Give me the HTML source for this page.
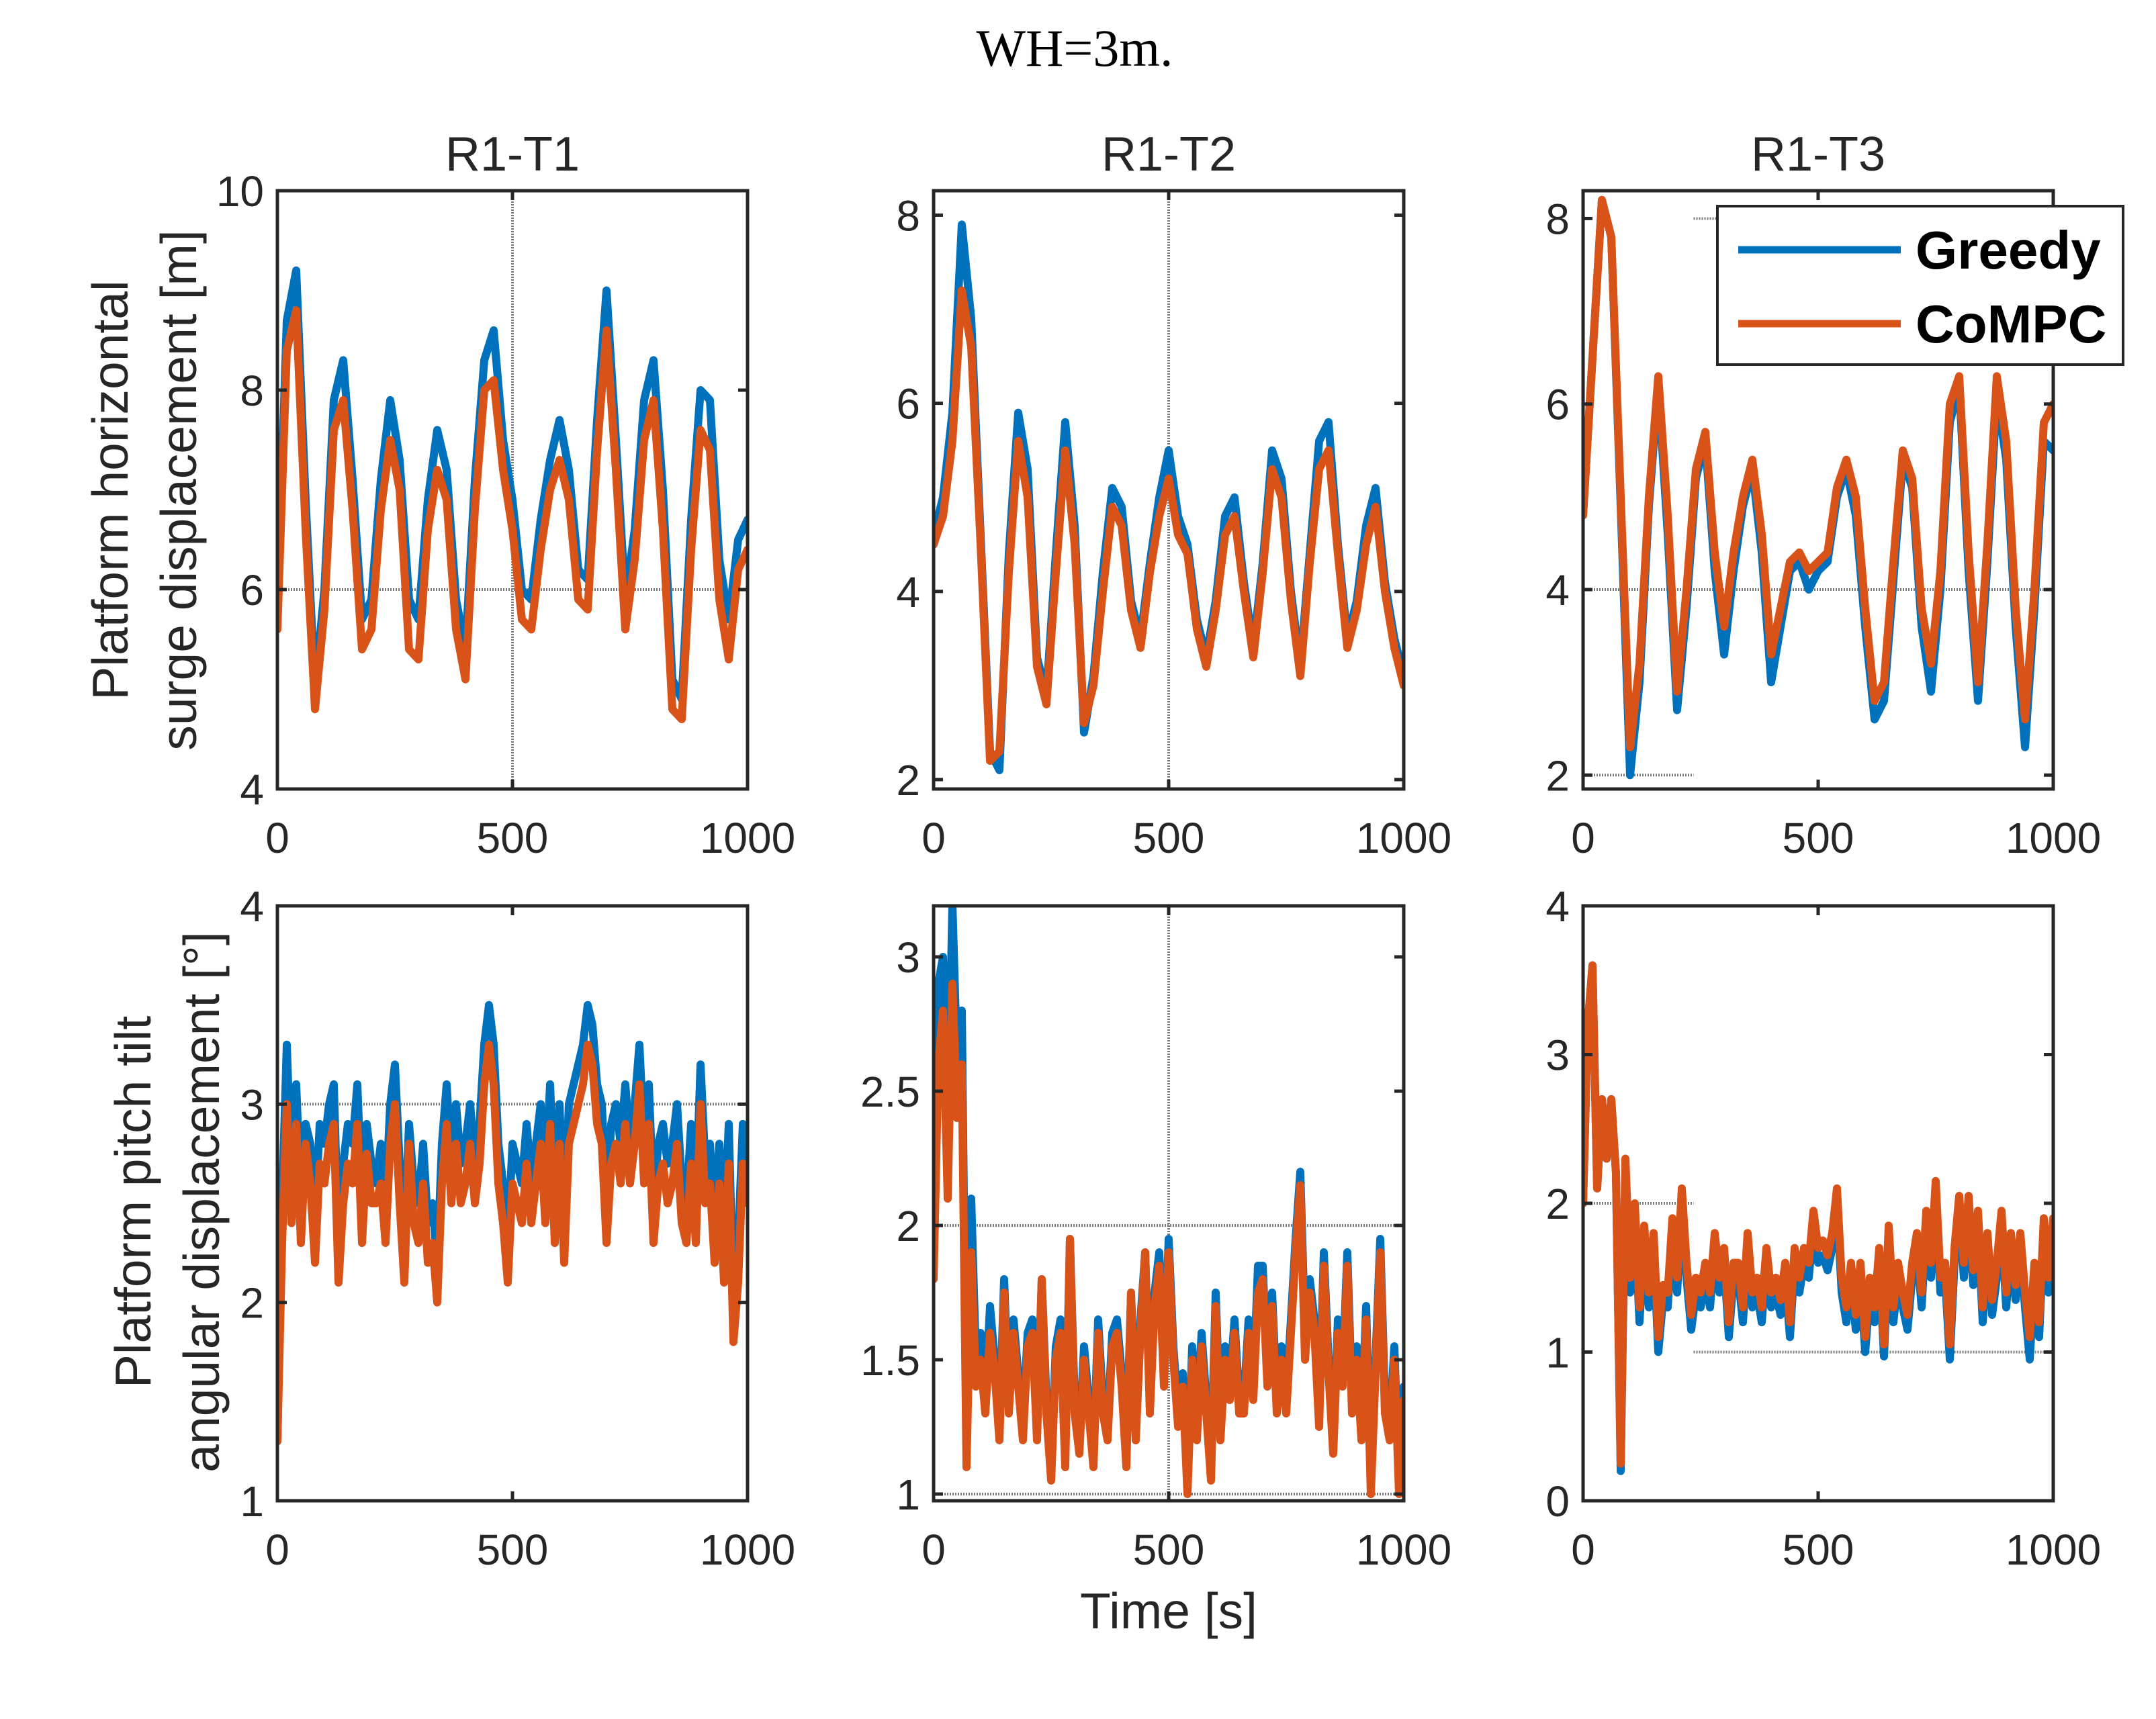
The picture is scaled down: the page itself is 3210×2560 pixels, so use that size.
<!DOCTYPE html>
<html><head><meta charset="utf-8">
<style>
html,body{margin:0;padding:0;background:#fff;}
svg{display:block;}
text{font-family:"Liberation Sans",Arial,sans-serif;fill:#262626;}
</style></head>
<body>
<svg id="fig" width="3210" height="2560" viewBox="0 0 3210 2560" xmlns="http://www.w3.org/2000/svg">
<rect width="3210" height="2560" fill="#fff"/>
<text x="1600" y="98" text-anchor="middle" style="font-family:'Liberation Serif',serif;font-size:78px;fill:#000">WH=3m.</text>
<text transform="translate(190,730) rotate(-90)" text-anchor="middle" font-size="75">Platform horizontal</text>
<text transform="translate(292,730) rotate(-90)" text-anchor="middle" font-size="75">surge displacement [m]</text>
<text transform="translate(224,1790) rotate(-90)" text-anchor="middle" font-size="75">Platform pitch tilt</text>
<text transform="translate(326,1790) rotate(-90)" text-anchor="middle" font-size="75">angular displacement [°]</text>
<text x="1740" y="2425" text-anchor="middle" font-size="75">Time [s]</text>
<g id="panels"></g>
<g>
<rect x="2557" y="307" width="604" height="236" fill="#fff" stroke="#262626" stroke-width="4"/>
<line x1="2588" y1="372" x2="2830" y2="372" stroke="#0072BD" stroke-width="11"/>
<text x="2852" y="400" font-size="80" font-weight="bold" style="fill:#000">Greedy</text>
<line x1="2588" y1="482" x2="2830" y2="482" stroke="#D95319" stroke-width="11"/>
<text x="2852" y="510" font-size="80" font-weight="bold" style="fill:#000">CoMPC</text>
</g>
</svg>
<script>
// time grids (s)
const t20 = [0,20,40,60,80,100,120,140,160,180,200,220,240,260,280,300,320,340,360,380,400,420,440,460,480,500,520,540,560,580,600,620,640,660,680,700,720,740,760,780,800,820,840,860,880,900,920,940,960,980,1000];
const t10 = [0,10,20,30,40,50,60,70,80,90,100,110,120,130,140,150,160,170,180,190,200,210,220,230,240,250,260,270,280,290,300,310,320,330,340,350,360,370,380,390,400,410,420,430,440,450,460,470,480,490,500,510,520,530,540,550,560,570,580,590,600,610,620,630,640,650,660,670,680,690,700,710,720,730,740,750,760,770,780,790,800,810,820,830,840,850,860,870,880,890,900,910,920,930,940,950,960,970,980,990,1000];

// R1-T1 surge [m]
const surgeT1Greedy = [5.8,8.7,9.2,6.9,5.0,6.0,7.9,8.3,7.1,5.7,5.9,7.1,7.9,7.3,5.9,5.7,6.9,7.6,7.2,5.9,5.4,7.1,8.3,8.6,7.5,6.9,6.0,5.9,6.7,7.3,7.7,7.2,6.2,6.1,7.7,9.0,7.5,5.9,6.6,7.9,8.3,7.0,5.1,4.9,6.7,8.0,7.9,6.3,5.7,6.5,6.7];
const surgeT1CoMPC = [5.6,8.4,8.8,6.6,4.8,5.8,7.6,7.9,6.8,5.4,5.6,6.8,7.5,7.0,5.4,5.3,6.6,7.2,6.9,5.6,5.1,6.8,8.0,8.1,7.2,6.6,5.7,5.6,6.4,7.0,7.3,6.9,5.9,5.8,7.4,8.6,7.2,5.6,6.3,7.5,7.9,6.6,4.8,4.7,6.4,7.6,7.4,5.9,5.3,6.2,6.4];
// R1-T2 surge [m]
const surgeT2Greedy = [4.6,5.0,5.9,7.9,6.9,4.6,2.3,2.1,4.4,5.9,5.3,3.3,2.9,4.4,5.8,4.7,2.5,3.1,4.2,5.1,4.9,3.9,3.5,4.3,5.0,5.5,4.8,4.5,3.7,3.3,3.9,4.8,5.0,4.1,3.4,4.3,5.5,5.2,4.0,3.2,4.4,5.6,5.8,4.5,3.5,3.9,4.7,5.1,4.1,3.5,3.1];
const surgeT2CoMPC = [4.5,4.8,5.6,7.2,6.6,4.5,2.2,2.3,4.2,5.6,5.0,3.2,2.8,4.2,5.5,4.5,2.6,3.0,4.0,4.9,4.7,3.8,3.4,4.2,4.8,5.2,4.6,4.4,3.6,3.2,3.8,4.6,4.8,4.0,3.3,4.2,5.3,5.0,3.9,3.1,4.3,5.3,5.5,4.4,3.4,3.8,4.5,4.9,4.0,3.4,3.0];
// R1-T3 surge [m]
const surgeT3Greedy = [4.8,6.5,8.2,7.8,4.9,2.0,3.0,4.9,6.2,4.6,2.7,3.8,5.2,5.6,4.2,3.3,4.2,4.9,5.3,4.4,3.0,3.6,4.2,4.3,4.0,4.2,4.3,5.0,5.3,4.8,3.6,2.6,2.8,4.1,5.4,5.1,3.6,2.9,4.0,5.8,6.2,4.2,2.8,4.3,6.1,5.4,3.6,2.3,3.8,5.6,5.5];
const surgeT3CoMPC = [4.8,6.5,8.2,7.8,5.0,2.3,3.2,5.0,6.3,4.8,2.9,4.0,5.3,5.7,4.4,3.6,4.4,5.0,5.4,4.6,3.3,3.8,4.3,4.4,4.2,4.3,4.4,5.1,5.4,5.0,3.8,2.8,3.0,4.3,5.5,5.2,3.8,3.2,4.2,6.0,6.3,4.4,3.0,4.5,6.3,5.6,3.8,2.6,4.0,5.8,6.0];

// R1-T1 pitch [deg]
const pitchT1Greedy = [1.3,2.5,3.3,2.6,3.1,2.5,2.9,2.8,2.4,2.9,2.8,3.0,3.1,2.3,2.7,2.9,2.8,3.1,2.5,2.9,2.7,2.6,2.8,2.5,3.0,3.2,2.7,2.3,2.9,2.6,2.5,2.8,2.4,2.5,2.2,2.8,3.1,2.7,3.0,2.7,2.8,3.0,2.7,2.9,3.3,3.5,3.3,2.8,2.6,2.3,2.8,2.7,2.6,2.9,2.6,2.8,3.0,2.6,3.1,2.5,3.0,2.4,3.0,3.1,3.2,3.3,3.5,3.4,3.1,3.0,2.5,2.9,3.0,2.8,3.1,2.8,3.0,3.3,2.8,3.1,2.5,2.8,2.9,2.7,2.8,3.0,2.6,2.5,2.9,2.5,3.2,2.7,2.8,2.4,2.8,2.3,2.9,2.0,2.3,2.9,2.7];
const pitchT1CoMPC = [1.3,2.3,3.0,2.4,2.9,2.3,2.8,2.6,2.2,2.7,2.6,2.8,2.9,2.1,2.5,2.7,2.6,2.9,2.3,2.75,2.5,2.5,2.6,2.3,2.8,3.0,2.5,2.1,2.8,2.4,2.3,2.6,2.2,2.3,2.0,2.6,2.9,2.5,2.8,2.5,2.6,2.8,2.5,2.7,3.1,3.3,3.1,2.6,2.4,2.1,2.6,2.5,2.4,2.7,2.4,2.6,2.8,2.4,2.9,2.3,2.8,2.2,2.8,2.9,3.0,3.1,3.3,3.2,2.9,2.8,2.3,2.7,2.8,2.6,2.9,2.6,2.8,3.1,2.6,2.9,2.3,2.6,2.7,2.5,2.6,2.8,2.4,2.3,2.7,2.3,3.0,2.5,2.6,2.2,2.6,2.1,2.7,1.8,2.1,2.7,2.5];
// R1-T2 pitch [deg]
const pitchT2Greedy = [1.9,2.9,3.0,2.3,3.2,2.6,2.8,1.2,2.1,1.5,1.6,1.35,1.7,1.5,1.25,1.8,1.35,1.65,1.45,1.25,1.6,1.65,1.25,1.8,1.35,1.1,1.55,1.65,1.15,1.95,1.35,1.2,1.55,1.35,1.15,1.65,1.35,1.25,1.6,1.65,1.45,1.15,1.75,1.25,1.65,1.9,1.35,1.75,1.9,1.45,1.95,1.55,1.3,1.45,1.05,1.55,1.25,1.6,1.35,1.1,1.75,1.25,1.55,1.4,1.65,1.35,1.35,1.65,1.4,1.85,1.85,1.45,1.75,1.35,1.55,1.35,1.65,1.95,2.2,1.6,1.8,1.65,1.3,1.9,1.5,1.2,1.65,1.45,1.9,1.35,1.55,1.25,1.7,1.05,1.5,1.95,1.35,1.25,1.55,1.05,1.4];
const pitchT2CoMPC = [1.8,2.6,2.8,2.1,2.9,2.4,2.6,1.1,1.9,1.4,1.5,1.3,1.6,1.45,1.2,1.75,1.3,1.6,1.4,1.2,1.55,1.6,1.2,1.8,1.3,1.05,1.5,1.6,1.1,1.95,1.3,1.15,1.5,1.3,1.1,1.6,1.3,1.2,1.55,1.6,1.4,1.1,1.75,1.2,1.6,1.9,1.3,1.7,1.85,1.4,1.9,1.5,1.25,1.4,1.0,1.5,1.2,1.55,1.3,1.05,1.7,1.2,1.5,1.35,1.6,1.3,1.3,1.6,1.35,1.75,1.8,1.4,1.7,1.3,1.5,1.3,1.6,1.9,2.15,1.5,1.75,1.6,1.25,1.85,1.45,1.15,1.6,1.4,1.85,1.3,1.5,1.2,1.65,1.0,1.45,1.9,1.3,1.2,1.5,1.0,1.35];
// R1-T3 pitch [deg]
const pitchT3Greedy = [2.0,3.2,3.6,2.1,2.7,2.3,2.7,2.2,0.2,2.2,1.4,1.9,1.2,1.75,1.3,1.7,1.0,1.35,1.3,1.8,1.4,2.0,1.5,1.15,1.4,1.3,1.5,1.3,1.7,1.4,1.6,1.1,1.5,1.5,1.2,1.7,1.3,1.4,1.2,1.6,1.3,1.4,1.25,1.5,1.1,1.6,1.4,1.6,1.5,1.85,1.6,1.65,1.55,1.7,2.0,1.4,1.2,1.5,1.15,1.5,1.0,1.4,1.2,1.6,0.97,1.75,1.2,1.5,1.3,1.15,1.5,1.7,1.3,1.85,1.5,2.05,1.4,1.5,0.95,1.6,1.95,1.5,1.95,1.45,1.85,1.2,1.7,1.25,1.5,1.85,1.3,1.7,1.35,1.7,1.3,0.95,1.5,1.1,1.8,1.4,1.7];
const pitchT3CoMPC = [2.0,3.2,3.6,2.1,2.7,2.3,2.7,2.2,0.25,2.3,1.5,2.0,1.3,1.85,1.4,1.8,1.1,1.45,1.4,1.9,1.5,2.1,1.6,1.25,1.5,1.4,1.6,1.4,1.8,1.5,1.7,1.2,1.6,1.6,1.3,1.8,1.4,1.5,1.3,1.7,1.4,1.5,1.35,1.6,1.2,1.7,1.5,1.7,1.6,1.95,1.7,1.75,1.65,1.8,2.1,1.5,1.3,1.6,1.25,1.6,1.1,1.5,1.3,1.7,1.05,1.85,1.3,1.6,1.4,1.25,1.6,1.8,1.4,1.95,1.6,2.15,1.5,1.6,1.05,1.7,2.05,1.6,2.05,1.55,1.95,1.3,1.8,1.35,1.6,1.95,1.4,1.8,1.45,1.8,1.4,1.1,1.6,1.2,1.9,1.5,1.9];

// tick labels
const xTicks = [0,500,1000];
const yTicksSurgeT1 = [4,6,8,10];
const yTicksSurgeT2 = [2,4,6,8];
const yTicksSurgeT3 = [2,4,6,8];
const yTicksPitchT1 = [1,2,3,4];
const yTicksPitchT2 = [1,1.5,2,2.5,3];
const yTicksPitchT3 = [0,1,2,3,4];
const panelTitles = ["R1-T1","R1-T2","R1-T3"];

const NS = "http://www.w3.org/2000/svg";
const root = document.getElementById('panels');
function mk(tag, attrs, parent){
  const e = document.createElementNS(NS, tag);
  for (const k in attrs) e.setAttribute(k, attrs[k]);
  (parent||root).appendChild(e);
  return e;
}
const cols = [[413,1113],[1390,2090],[2357,3057]];
const rows = [[284,1175],[1349,2235]];
const panels = [
  {c:0,r:0,ymin:4,ymax:10,ticks:yTicksSurgeT1,t:t20,g:surgeT1Greedy,o:surgeT1CoMPC,name:'surge-r1-t1',
   grid:[['v',500],['h',6,0,1000]]},
  {c:1,r:0,ymin:1.9,ymax:8.26,ticks:yTicksSurgeT2,t:t20,g:surgeT2Greedy,o:surgeT2CoMPC,name:'surge-r1-t2',
   grid:[['v',500]]},
  {c:2,r:0,ymin:1.85,ymax:8.3,ticks:yTicksSurgeT3,t:t20,g:surgeT3Greedy,o:surgeT3CoMPC,name:'surge-r1-t3',
   grid:[['h',8,235,1000],['h',4,0,1000],['h',2,0,235]]},
  {c:0,r:1,ymin:1,ymax:4,ticks:yTicksPitchT1,t:t10,g:pitchT1Greedy,o:pitchT1CoMPC,name:'pitch-r1-t1',
   grid:[['h',3,0,1000]]},
  {c:1,r:1,ymin:0.975,ymax:3.19,ticks:yTicksPitchT2,t:t10,g:pitchT2Greedy,o:pitchT2CoMPC,name:'pitch-r1-t2',
   grid:[['v',500],['h',2,0,1000],['h',1,0,1000]]},
  {c:2,r:1,ymin:0,ymax:4,ticks:yTicksPitchT3,t:t10,g:pitchT3Greedy,o:pitchT3CoMPC,name:'pitch-r1-t3',
   grid:[['h',2,0,235],['h',1,235,1000]]}
];
panels.forEach(p=>{
  const [x0,x1] = cols[p.c], [y0,y1] = rows[p.r];
  const sx = v => x0 + (v-0)/(1000-0)*(x1-x0);
  const sy = v => y1 - (v-p.ymin)/(p.ymax-p.ymin)*(y1-y0);
  const g = mk('g',{});
  
  
  const clipId = 'clip-' + p.name;
  const cp = mk('clipPath',{id:clipId}, g);
  mk('rect',{x:x0,y:y0,width:x1-x0,height:y1-y0}, cp);
  p.grid.forEach(gl=>{
    let l;
    if (gl[0]==='v') l = mk('line',{x1:sx(gl[1]),x2:sx(gl[1]),y1:y0,y2:y1,stroke:'#7a7a7a','stroke-width':4,'stroke-dasharray':'2 2'}, g);
    else l = mk('line',{x1:sx(gl[2]),x2:sx(gl[3]),y1:sy(gl[1]),y2:sy(gl[1]),stroke:'#7a7a7a','stroke-width':4,'stroke-dasharray':'2 2'}, g);
    
    
  });
  [['g','#0072BD','greedy-line'],['o','#D95319','compc-line']].forEach(s=>{
    const vals = p[s[0]];
    const d = vals.map((v,i)=>(i?'L':'M')+sx(p.t[i]).toFixed(1)+' '+sy(v).toFixed(1)).join(' ');
    const path = mk('path',{d:d,fill:'none',stroke:s[1],'stroke-width':12,'stroke-linejoin':'round','stroke-linecap':'round','clip-path':'url(#'+clipId+')'}, g);
    
    
  });
  const box = mk('rect',{x:x0,y:y0,width:x1-x0,height:y1-y0,fill:'none',stroke:'#262626','stroke-width':5}, g);
  
  
  p.ticks.forEach(v=>{
    const y = sy(v);
    mk('line',{x1:x0,x2:x0+14,y1:y,y2:y,stroke:'#262626','stroke-width':5}, g);
    mk('line',{x1:x1,x2:x1-14,y1:y,y2:y,stroke:'#262626','stroke-width':5}, g);
    const tx = mk('text',{x:x0-20,y:y+23,'text-anchor':'end','font-size':64}, g);
    tx.textContent = String(v);
    
    
  });
  xTicks.forEach(v=>{
    const x = sx(v);
    mk('line',{x1:x,x2:x,y1:y1,y2:y1-14,stroke:'#262626','stroke-width':5}, g);
    mk('line',{x1:x,x2:x,y1:y0,y2:y0+14,stroke:'#262626','stroke-width':5}, g);
    const tx = mk('text',{x:x,y:y1+95,'text-anchor':'middle','font-size':64}, g);
    tx.textContent = String(v);
    
    
  });
  if (p.r===0){
    const tt = mk('text',{x:(x0+x1)/2,y:y0-30,'text-anchor':'middle','font-size':72}, g);
    tt.textContent = panelTitles[p.c];
    
    
  }
});
</script>
</body></html>
